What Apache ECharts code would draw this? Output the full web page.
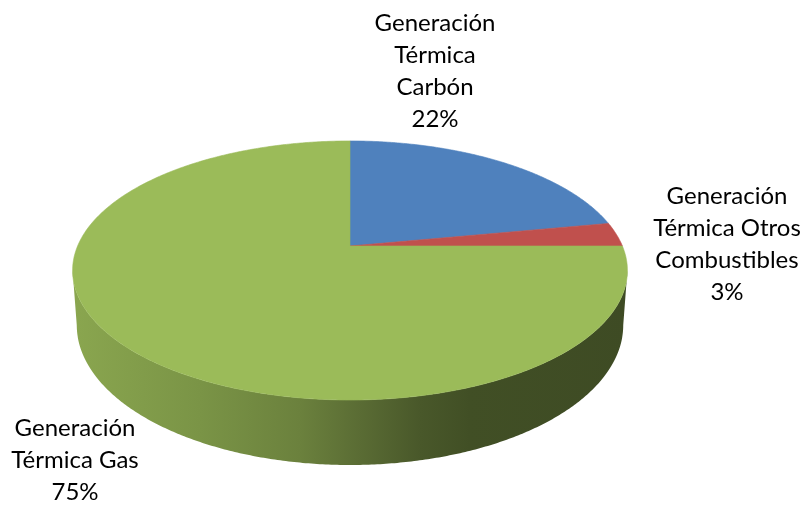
<!DOCTYPE html>
<html>
<head>
<meta charset="utf-8">
<script src="https://cdn.jsdelivr.net/npm/echarts@6/dist/echarts.min.js"></script>
<style>
  html, body { margin: 0; padding: 0; background: #ffffff; }
  #chart { width: 808px; height: 506px; }
</style>
</head>
<body>
<div id="chart"></div>
<script>
// Participación de la generación térmica por combustible
const categorias = [
  'Generación\nTérmica\nCarbón',
  'Generación\nTérmica Otros\nCombustibles',
  'Generación\nTérmica Gas'
];
const valores = [22, 3, 75];

// Paleta y disposición
const colores = ['#4f81bd', '#c0504d', '#9bbb59'];
const posEtiquetas = [[435, 71], [727, 244], [75, 460]];

// Proyección en perspectiva del disco
const CX = 350, CY = 246;      // centro del pastel en pantalla
const RX = 272.4, RY = 124.9;  // semiejes proyectados
const K = 0.189;               // intensidad de la perspectiva
const PROF = 52.7;             // grosor del disco
const ESC_BASE = 0.985;        // la cara inferior se ve algo más pequeña
const PASO = Math.PI / 360;

const total = valores.reduce((s, v) => s + v, 0);
const inicios = [];
valores.reduce((acc, v, i) => { inicios[i] = acc; return acc + v / total * Math.PI * 2; }, 0);

function proyectar(phi, abajo) {
  const w = 1 + K * Math.cos(phi);
  const s = abajo ? ESC_BASE : 1;
  return [
    CX + RX * Math.sin(phi) / w * s,
    CY - RY * Math.cos(phi) / w + (abajo ? PROF / w : 0)
  ];
}

function arco(a, b, abajo) {
  const pts = [];
  const n = Math.max(2, Math.ceil((b - a) / PASO));
  for (let j = 0; j <= n; j++) pts.push(proyectar(a + (b - a) * j / n, abajo));
  return pts;
}

// Tramo frontal visible de la pared lateral
const FRENTE_INI = Math.acos(-K);
const FRENTE_FIN = Math.PI * 2 - Math.acos(-K);

// Oscurece un color multiplicando sus canales
function sombra(hex, f) {
  const n = parseInt(hex.slice(1), 16);
  const r = Math.round(((n >> 16) & 255) * f);
  const g = Math.round(((n >> 8) & 255) * f);
  const b = Math.round((n & 255) * f);
  return 'rgb(' + r + ',' + g + ',' + b + ')';
}

function degradadoPared(base) {
  const x0 = 72, x1 = 628;
  const paradas = [[72, 0.89], [200, 0.79], [300, 0.69], [360, 0.58], [420, 0.47], [470, 0.42], [628, 0.40]];
  return new echarts.graphic.LinearGradient(x0, 0, x1, 0,
    paradas.map(p => ({ offset: (p[0] - x0) / (x1 - x0), color: sombra(base, p[1]) })), true);
}

function paredes(params, api) {
  const i = params.dataIndex;
  const ini = inicios[i];
  const fin = ini + api.value(0) / total * Math.PI * 2;
  const a = Math.max(ini, FRENTE_INI), b = Math.min(fin, FRENTE_FIN);
  if (b <= a) return { type: 'group', children: [] };
  const pts = arco(a, b, false).concat(arco(a, b, true).reverse());
  return {
    type: 'polygon',
    shape: { points: pts },
    style: { fill: degradadoPared(colores[i]), stroke: null }
  };
}

function caras(params, api) {
  const i = params.dataIndex;
  const ini = inicios[i];
  const fin = ini + api.value(0) / total * Math.PI * 2;
  const pts = [[CX, CY]].concat(arco(ini, fin, false));
  const pct = Math.round(api.value(0) / total * 100);
  return {
    type: 'group',
    children: [
      {
        type: 'polygon',
        shape: { points: pts },
        style: { fill: colores[i], stroke: colores[i], lineWidth: 0.6 }
      },
      {
        type: 'text',
        z2: 50,
        style: {
          text: categorias[i] + '\n' + pct + '%',
          x: posEtiquetas[i][0],
          y: posEtiquetas[i][1],
          align: 'center',
          verticalAlign: 'middle',
          fontFamily: 'Lato',
          fontSize: 24,
          lineHeight: 32,
          fill: '#000000'
        }
      }
    ]
  };
}

const datos = valores.map((v, i) => ({ name: categorias[i], value: v }));

const chart = echarts.init(document.getElementById('chart'), null, { renderer: 'canvas' });
chart.setOption({
  animation: false,
  backgroundColor: '#ffffff',
  series: [
    { type: 'custom', name: 'pared', coordinateSystem: 'none', z: 1, renderItem: paredes, data: datos, silent: true },
    { type: 'custom', name: 'cara', coordinateSystem: 'none', z: 2, renderItem: caras, data: datos, silent: true }
  ]
});
</script>
</body>
</html>
